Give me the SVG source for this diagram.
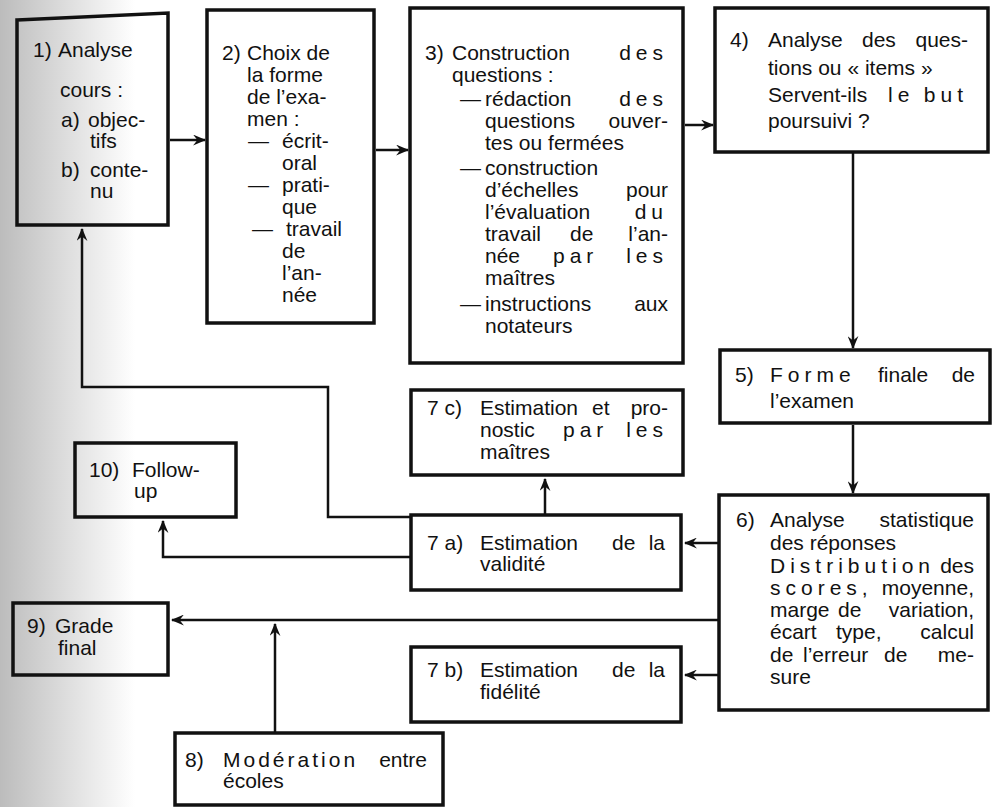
<svg xmlns="http://www.w3.org/2000/svg" width="998" height="807" viewBox="0 0 998 807">
<defs>
<linearGradient id="scan" x1="0" y1="0" x2="1" y2="0">
<stop offset="0" stop-color="#bcbcbc"/>
<stop offset="0.5" stop-color="#dedede"/>
<stop offset="1" stop-color="#ffffff"/>
</linearGradient>
<marker id="ah" viewBox="0 0 12 10" refX="11" refY="5" markerWidth="13" markerHeight="11" markerUnits="userSpaceOnUse" orient="auto">
<path d="M0,0 L12,5 L0,10 L4,5 Z" fill="#111"/>
</marker>
<style>
.t{font-family:"Liberation Sans","DejaVu Sans",Arial,sans-serif;font-size:21px;fill:#111}
.e{text-anchor:end}
.sp{letter-spacing:5px}
.sp3{letter-spacing:3px}
.box{fill:none;stroke:#111;stroke-width:3.5}
.ln{fill:none;stroke:#111;stroke-width:2.5}
.ar{marker-end:url(#ah)}
</style>
</defs>
<rect x="0" y="0" width="998" height="807" fill="#fff"/>
<rect x="0" y="0" width="135" height="807" fill="url(#scan)"/>

<g id="connectors">
<line class="ln ar" x1="170" y1="140" x2="205" y2="140"/>
<line class="ln ar" x1="376" y1="150" x2="408" y2="150"/>
<line class="ln ar" x1="685" y1="125" x2="713" y2="125"/>
<line class="ln ar" x1="853" y1="153" x2="853" y2="348"/>
<line class="ln ar" x1="853" y1="425" x2="853" y2="493"/>
<line class="ln ar" x1="719" y1="543" x2="685" y2="543"/>
<line class="ln ar" x1="719" y1="675" x2="685" y2="675"/>
<line class="ln ar" x1="719" y1="620" x2="172" y2="620"/>
<line class="ln ar" x1="275" y1="733" x2="275" y2="624"/>
<line class="ln ar" x1="545" y1="515" x2="545" y2="479"/>
<polyline class="ln ar" points="411,517 328,517 328,387 82,387 82,229"/>
<polyline class="ln ar" points="411,557 163,557 163,521"/>
</g>

<g id="n1">
<path class="box" d="M17,20 L168,13 L168,225 L17,225 Z"/>
<text class="t" x="33" y="57">1)</text><text class="t" x="58" y="57">Analyse</text>
<text class="t" x="60" y="97">cours :</text>
<text class="t" x="61" y="127">a)</text><text class="t" x="88" y="127">objec-</text>
<text class="t" x="90" y="148">tifs</text>
<text class="t" x="61" y="177">b)</text><text class="t" x="90" y="177">conte-</text>
<text class="t" x="90" y="198">nu</text>
</g>

<g id="n2">
<rect class="box" x="207" y="10" width="167" height="313"/>
<text class="t" x="222" y="60">2)</text><text class="t" x="247" y="60">Choix de</text>
<text class="t" x="247" y="82">la forme</text>
<text class="t" x="247" y="104">de  l’exa-</text>
<text class="t" x="247" y="126">men :</text>
<text class="t" x="248" y="148">—</text><text class="t" x="282" y="148">écrit-</text>
<text class="t" x="282" y="170">oral</text>
<text class="t" x="248" y="192">—</text><text class="t" x="282" y="192">prati-</text>
<text class="t" x="282" y="214">que</text>
<text class="t" x="252" y="236">—</text><text class="t" x="286" y="236">travail</text>
<text class="t" x="282" y="258">de</text>
<text class="t" x="282" y="280">l’an-</text>
<text class="t" x="282" y="302">née</text>
</g>

<g id="n3">
<rect class="box" x="410" y="8" width="273" height="355"/>
<text class="t" x="425" y="60">3)</text><text class="t" x="452" y="60">Construction</text><text class="t e sp" x="668" y="60">des</text>
<text class="t" x="452" y="82">questions :</text>
<text class="t" x="460" y="106">—</text><text class="t" x="485" y="106">rédaction</text><text class="t e sp" x="668" y="106">des</text>
<text class="t" x="485" y="128">questions</text><text class="t e" x="668" y="128">ouver-</text>
<text class="t" x="485" y="150">tes ou fermées</text>
<text class="t" x="460" y="175">—</text><text class="t" x="485" y="175">construction</text>
<text class="t" x="485" y="197">d’échelles</text><text class="t e" x="668" y="197">pour</text>
<text class="t" x="485" y="219">l’évaluation</text><text class="t e sp" x="668" y="219">du</text>
<text class="t" x="485" y="241">travail</text><text class="t" x="570" y="241">de</text><text class="t e" x="668" y="241">l’an-</text>
<text class="t" x="485" y="263">née</text><text class="t sp" x="553" y="263">par</text><text class="t e sp" x="668" y="263">les</text>
<text class="t" x="485" y="285">maîtres</text>
<text class="t" x="460" y="311">—</text><text class="t" x="485" y="311">instructions</text><text class="t e" x="668" y="311">aux</text>
<text class="t" x="485" y="333">notateurs</text>
</g>

<g id="n4">
<rect class="box" x="715" y="8" width="273" height="144"/>
<text class="t" x="730" y="47">4)</text><text class="t" x="768" y="47">Analyse</text><text class="t" x="862" y="47">des</text><text class="t e" x="968" y="47">ques-</text>
<text class="t" x="768" y="75">tions ou « items »</text>
<text class="t" x="768" y="102">Servent-ils</text><text class="t sp" x="888" y="102">le</text><text class="t e sp" x="968" y="102">but</text>
<text class="t" x="768" y="128">poursuivi ?</text>
</g>

<g id="n5">
<rect class="box" x="720" y="350" width="270" height="73"/>
<text class="t" x="735" y="382">5)</text><text class="t sp" x="770" y="382">Forme</text><text class="t" x="878" y="382">finale</text><text class="t e" x="975" y="382">de</text>
<text class="t" x="770" y="408">l’examen</text>
</g>

<g id="n6">
<rect class="box" x="719" y="495" width="269" height="215"/>
<text class="t" x="736" y="527">6)</text><text class="t" x="770" y="527">Analyse</text><text class="t e" x="974" y="527">statistique</text>
<text class="t" x="770" y="550">des réponses</text>
<text class="t sp" x="770" y="573">Distribution</text><text class="t e" x="974" y="573">des</text>
<text class="t sp" x="770" y="595">scores,</text><text class="t e" x="974" y="595">moyenne,</text>
<text class="t" x="770" y="617">marge</text><text class="t" x="838" y="617">de</text><text class="t e" x="974" y="617">variation,</text>
<text class="t" x="770" y="639">écart</text><text class="t" x="836" y="639">type,</text><text class="t e" x="974" y="639">calcul</text>
<text class="t" x="770" y="662">de</text><text class="t" x="803" y="662">l’erreur</text><text class="t" x="884" y="662">de</text><text class="t e" x="974" y="662">me-</text>
<text class="t" x="770" y="684">sure</text>
</g>

<g id="n7c">
<rect class="box" x="411" y="390" width="272" height="85"/>
<text class="t" x="427" y="415">7 c)</text><text class="t" x="480" y="415">Estimation</text><text class="t" x="592" y="415">et</text><text class="t e" x="668" y="415">pro-</text>
<text class="t" x="480" y="437">nostic</text><text class="t sp" x="563" y="437">par</text><text class="t e sp" x="668" y="437">les</text>
<text class="t" x="480" y="459">maîtres</text>
</g>

<g id="n7a">
<rect class="box" x="411" y="515" width="270" height="75"/>
<text class="t" x="427" y="550">7 a)</text><text class="t" x="480" y="550">Estimation</text><text class="t" x="612" y="550">de</text><text class="t e" x="665" y="550">la</text>
<text class="t" x="480" y="571">validité</text>
</g>

<g id="n7b">
<rect class="box" x="411" y="647" width="270" height="75"/>
<text class="t" x="427" y="677">7 b)</text><text class="t" x="480" y="677">Estimation</text><text class="t" x="612" y="677">de</text><text class="t e" x="665" y="677">la</text>
<text class="t" x="480" y="699">fidélité</text>
</g>

<g id="n10">
<rect class="box" x="75" y="443" width="161" height="74"/>
<text class="t" x="89" y="477">10)</text><text class="t" x="132" y="477">Follow-</text>
<text class="t" x="134" y="498">up</text>
</g>

<g id="n9">
<rect class="box" x="13" y="603" width="155" height="72"/>
<text class="t" x="27" y="633">9)</text><text class="t" x="55" y="633">Grade</text>
<text class="t" x="58" y="655">final</text>
</g>

<g id="n8">
<rect class="box" x="175" y="733" width="268" height="72"/>
<text class="t" x="185" y="767">8)</text><text class="t sp3" x="223" y="767">Modération</text><text class="t e" x="427" y="767">entre</text>
<text class="t" x="223" y="788">écoles</text>
</g>
</svg>
